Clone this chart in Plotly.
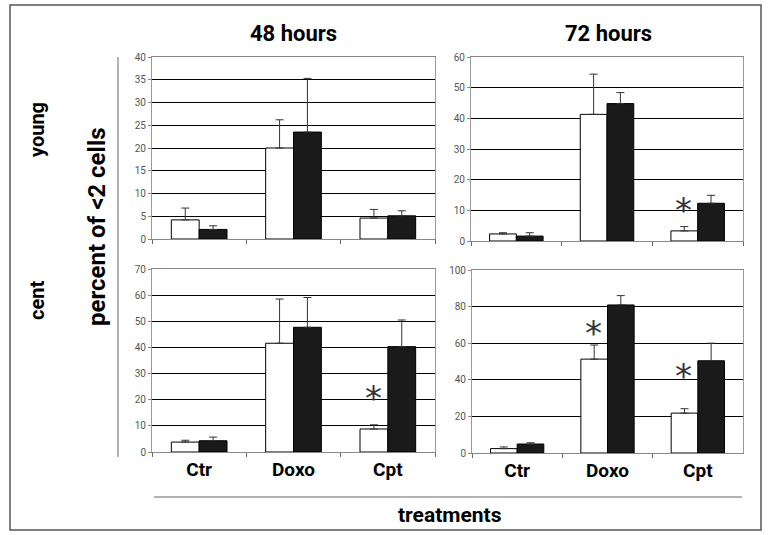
import plotly.graph_objects as go

W, H = 768, 535

categories = ["Ctr", "Doxo", "Cpt"]
tick_labels = ["Ctr", "Doxo", "Cpt"]
col_titles = ["48 hours", "72 hours"]
row_titles = ["young", "cent"]

# young, 48 h
young48_white = [4.2, 20.0, 4.6]
young48_white_err = [2.6, 6.2, 1.9]
young48_black = [2.1, 23.5, 5.1]
young48_black_err = [0.8, 11.8, 1.1]
# young, 72 h
young72_white = [2.3, 41.3, 3.3]
young72_white_err = [0.4, 13.1, 1.4]
young72_black = [1.6, 44.8, 12.3]
young72_black_err = [1.1, 3.6, 2.6]
# cent, 48 h
cent48_white = [3.8, 41.6, 8.8]
cent48_white_err = [0.7, 16.9, 1.6]
cent48_black = [4.3, 47.7, 40.3]
cent48_black_err = [1.4, 11.4, 10.2]
# cent, 72 h
cent72_white = [2.4, 51.3, 21.8]
cent72_white_err = [0.9, 7.7, 2.4]
cent72_black = [4.9, 80.9, 50.4]
cent72_black_err = [0.7, 5.1, 9.6]

y_ranges = [[0, 40], [0, 60], [0, 70], [0, 100]]
y_dticks = [5, 10, 10, 20]

# significance asterisks: (panel index, category, y value)
star_panel = [1, 2, 3, 3]
star_cat = ["Cpt", "Cpt", "Doxo", "Cpt"]
star_y = [12.8, 23.8, 70.0, 46.4]

panels = [
    (young48_white, young48_white_err, young48_black, young48_black_err),
    (young72_white, young72_white_err, young72_black, young72_black_err),
    (cent48_white, cent48_white_err, cent48_black, cent48_black_err),
    (cent72_white, cent72_white_err, cent72_black, cent72_black_err),
]

def px_x(v):
    return v / W

def px_y(v):
    return 1 - v / H

x_domains = [[px_x(152), px_x(435)], [px_x(471), px_x(743)],
             [px_x(152), px_x(435)], [px_x(472), px_x(743)]]
y_domains = [[px_y(239), px_y(57)], [px_y(241), px_y(57)],
             [px_y(452), px_y(269)], [px_y(453), px_y(270)]]

FONT = "Roboto, Liberation Sans, sans-serif"

fig = go.Figure()
for i, (wv, we, bv, be) in enumerate(panels):
    xa = "x" if i == 0 else f"x{i+1}"
    ya = "y" if i == 0 else f"y{i+1}"
    fig.add_trace(go.Bar(
        x=categories, y=wv, xaxis=xa, yaxis=ya,
        marker=dict(color="white", line=dict(color="black", width=1)),
        error_y=dict(type="data", symmetric=False, array=we,
                     arrayminus=[0] * len(we), color="#333", thickness=1, width=4),
        showlegend=False, offsetgroup="w",
    ))
    fig.add_trace(go.Bar(
        x=categories, y=bv, xaxis=xa, yaxis=ya,
        marker=dict(color="#1a1a1a", line=dict(color="black", width=1)),
        error_y=dict(type="data", symmetric=False, array=be,
                     arrayminus=[0] * len(be), color="#333", thickness=1, width=4),
        showlegend=False, offsetgroup="b",
    ))

layout = dict(
    width=W, height=H, margin=dict(l=0, r=0, t=0, b=0, autoexpand=False),
    paper_bgcolor="white", plot_bgcolor="white",
    barmode="group", bargap=0.41, bargroupgap=0,
    font=dict(family=FONT, color="black"),
)
for i in range(4):
    sx = "" if i == 0 else str(i + 1)
    ya = "y" if i == 0 else f"y{i+1}"
    xa = "x" if i == 0 else f"x{i+1}"
    layout["xaxis" + sx] = dict(
        domain=x_domains[i], anchor=ya, type="category",
        categoryorder="array", categoryarray=categories,
        tickmode="array", tickvals=categories, ticktext=tick_labels,
        showticklabels=(i >= 2), tickson="boundaries",
        ticks="outside", ticklen=4, tickcolor="#666",
        showline=True, linecolor="#888", linewidth=1, mirror=True,
        showgrid=False, zeroline=False, automargin=False,
        tickfont=dict(size=19, family=FONT, color="black", weight="bold"),
        fixedrange=True,
    )
    layout["yaxis" + sx] = dict(
        domain=y_domains[i], anchor=xa, range=y_ranges[i], dtick=y_dticks[i],
        ticks="outside", ticklen=3, tickcolor="#888",
        showline=True, linecolor="#999", linewidth=1, mirror=True,
        showgrid=True, gridcolor="black", gridwidth=1, zeroline=False,
        automargin=False,
        tickfont=dict(size=10, family=FONT, color="#555"),
        fixedrange=True,
    )
fig.update_layout(**layout)

annotations = []
for p, c, yv in zip(star_panel, star_cat, star_y):
    xa = "x" if p == 0 else f"x{p+1}"
    ya = "y" if p == 0 else f"y{p+1}"
    annotations.append(dict(
        x=c, y=yv, xref=xa, yref=ya, text="*", showarrow=False,
        xanchor="center", yanchor="middle",
        xshift=-14, yshift=-8, font=dict(size=34, family="DejaVu Sans", color="#333"),
    ))

def label(x, y, text, size, angle=0):
    return dict(x=px_x(x), y=px_y(y), xref="paper", yref="paper", text=text,
                xanchor="center", yanchor="middle", textangle=angle,
                showarrow=False,
                font=dict(size=size, family=FONT, color="black", weight="bold"))

annotations += [
    label(293, 34, col_titles[0], 22),
    label(608, 34, col_titles[1], 22),
    label(37, 130, row_titles[0], 20, -90),
    label(37, 301, row_titles[1], 20, -90),
    label(97, 227, "percent of &lt;2 cells", 24, -90),
    label(450, 515, "treatments", 21),
]
fig.update_layout(annotations=annotations)

fig.update_layout(shapes=[
    dict(type="rect", xref="paper", yref="paper", x0=px_x(10), x1=px_x(761),
         y0=px_y(530), y1=px_y(5), line=dict(color="#555", width=1.5)),
    dict(type="line", xref="paper", yref="paper", x0=px_x(118), x1=px_x(118),
         y0=px_y(457), y1=px_y(57), line=dict(color="#666", width=1)),
    dict(type="line", xref="paper", yref="paper", x0=px_x(154), x1=px_x(742),
         y0=px_y(497), y1=px_y(497), line=dict(color="#666", width=1)),
])

fig.write_html("out.html", config={"displayModeBar": False},
               post_script="document.body.style.margin='0';")
